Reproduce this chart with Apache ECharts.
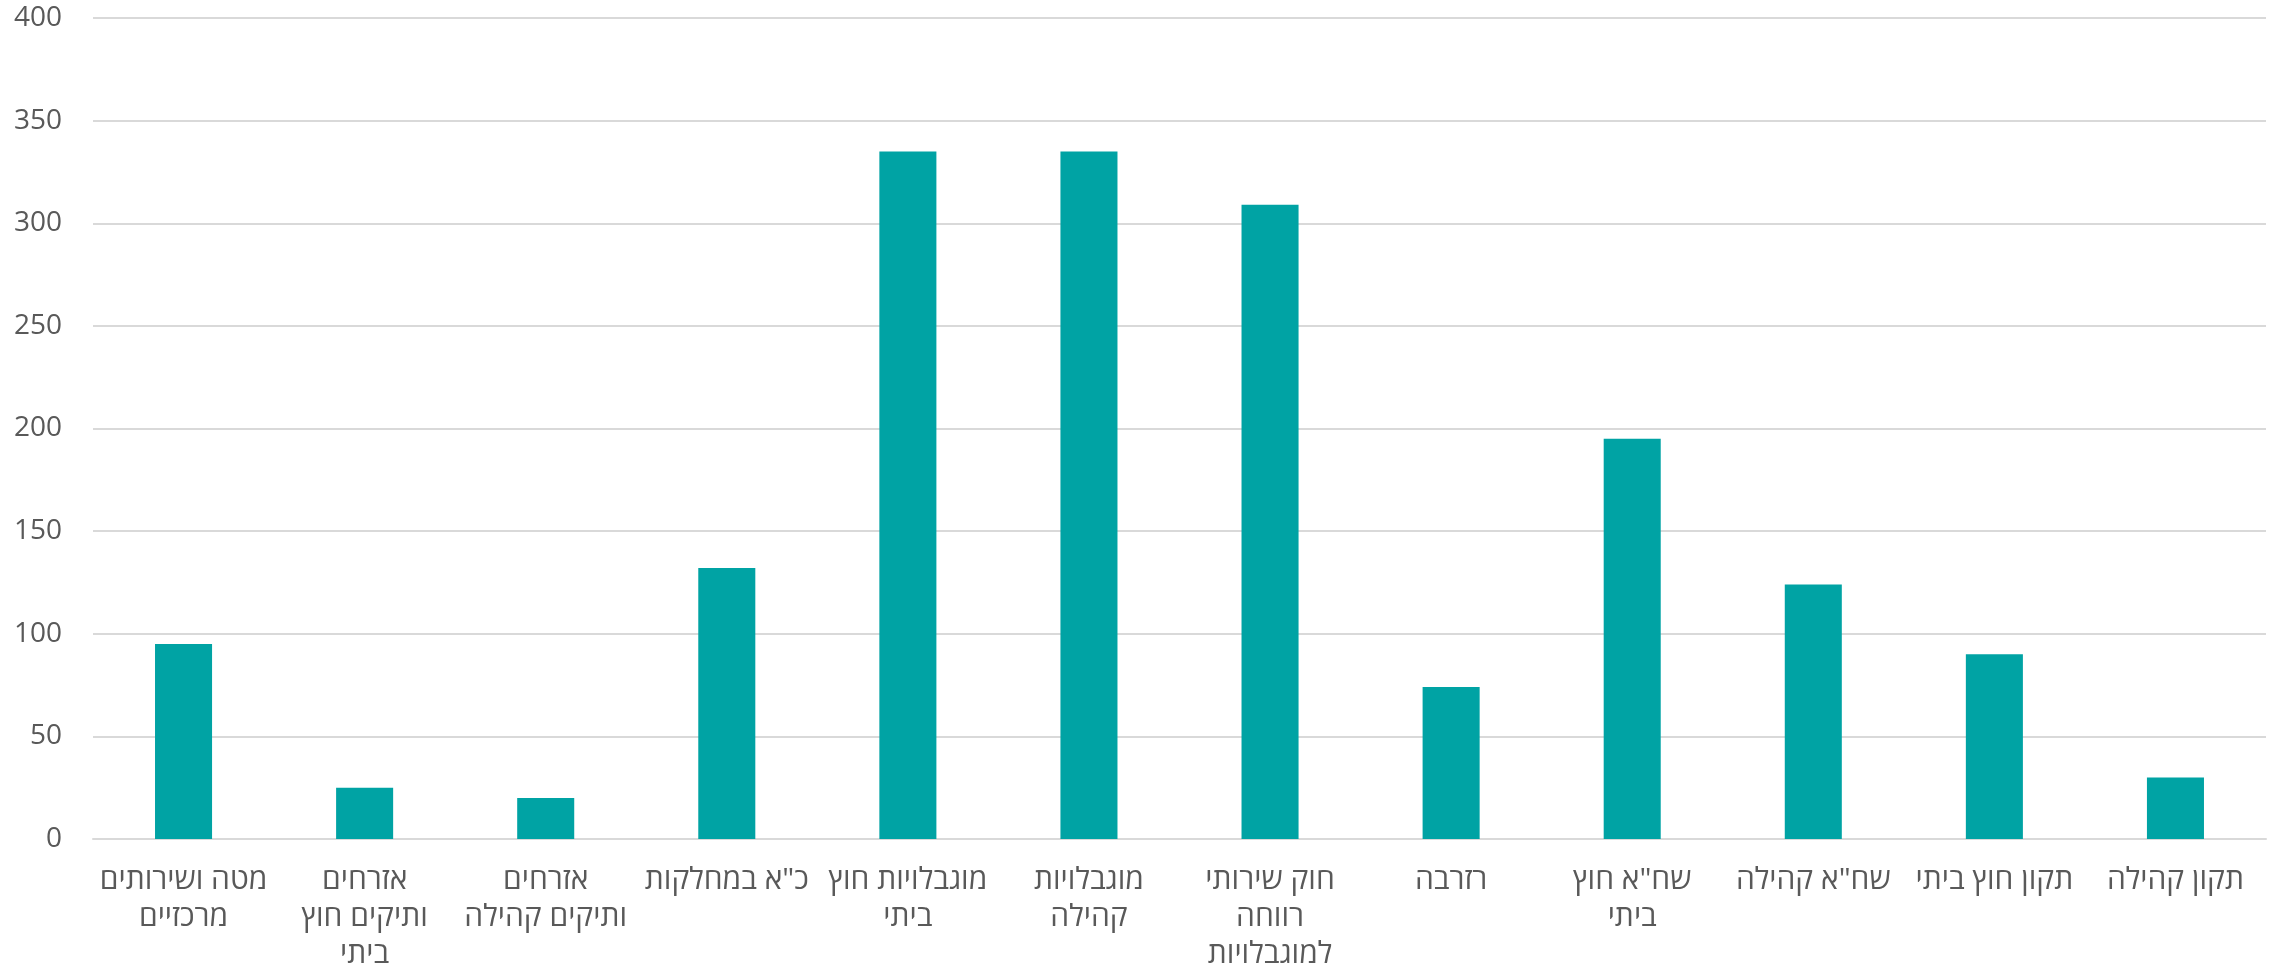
<!DOCTYPE html>
<html>
<head>
<meta charset="utf-8">
<script src="https://cdn.jsdelivr.net/npm/echarts@6/dist/echarts.min.js"></script>
<style>
html,body{margin:0;padding:0;background:#fff;}
#c{width:2271px;height:973px;}
</style>
</head>
<body>
<div id="c"></div>
<script>
const categories = [
  'מטה ושירותים\nמרכזיים',
  'אזרחים\nותיקים חוץ\nביתי',
  'אזרחים\nותיקים קהילה',
  'כ"א במחלקות',
  'מוגבלויות חוץ\nביתי',
  'מוגבלויות\nקהילה',
  'חוק שירותי\nרווחה\nלמוגבלויות',
  'רזרבה',
  'שח"א חוץ\nביתי',
  'שח"א קהילה',
  'תקון חוץ ביתי',
  'תקון קהילה'
];
const values = [95, 25, 20, 132, 335, 335, 309, 74, 195, 124, 90, 30];
const yMin = 0, yMax = 400, yStep = 50;

const chart = echarts.init(document.getElementById('c'));
chart.setOption({
  animation: false,
  grid: {left: 93, right: 5, top: 18, bottom: 128, containLabel: false},
  xAxis: {
    type: 'category',
    data: categories,
    axisLine: {show: true, lineStyle: {color: '#d9d9d9', width: 2}},
    axisTick: {show: false},
    axisLabel: {
      interval: 0,
      color: '#595959',
      fontSize: 30,
      lineHeight: 37,
      margin: 23,
      fontFamily: '"Open Sans", "Liberation Sans", "DejaVu Sans", sans-serif'
    }
  },
  yAxis: {
    type: 'value',
    min: yMin, max: yMax, interval: yStep,
    axisLine: {show: false},
    axisTick: {show: false},
    splitLine: {lineStyle: {color: '#d9d9d9', width: 2}},
    axisLabel: {
      color: '#595959',
      fontSize: 28,
      margin: 31,
      fontFamily: '"Open Sans", "Liberation Sans", "DejaVu Sans", sans-serif'
    }
  },
  series: [{
    type: 'bar',
    data: values,
    barWidth: '31.5%',
    itemStyle: {color: '#00a3a4'}
  }]
});
</script>
</body>
</html>
